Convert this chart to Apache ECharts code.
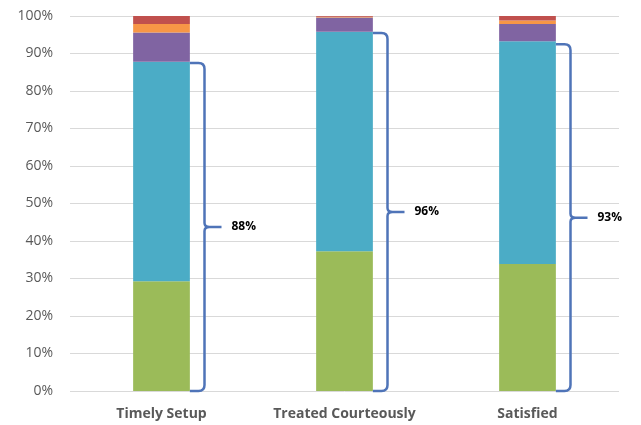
<!DOCTYPE html>
<html>
<head>
<meta charset="utf-8">
<script src="https://cdn.jsdelivr.net/npm/echarts@6/dist/echarts.min.js"></script>
<style>
  html, body { margin: 0; padding: 0; background: #fff; }
  #chart { width: 641px; height: 425px; }
</style>
</head>
<body>
<div id="chart"></div>
<script>
// Survey categories and stacked response shares (percent of respondents)
const categories = ['Timely Setup', 'Treated Courteously', 'Satisfied'];
const green  = [29.3, 37.3, 33.9];
const teal   = [58.5, 58.5, 59.4];
const purple = [7.8, 3.8, 4.6];
const orange = [2.3, 0.2, 0.9];
const red    = [2.1, 0.2, 1.2];
// Combined share of the two lowest segments, shown beside each bar
const combined = [88, 96, 93];
const yTicks = [0, 10, 20, 30, 40, 50, 60, 70, 80, 90, 100];

const colors = {
  green: '#9BBB59', teal: '#4BACC6', purple: '#8064A2',
  orange: '#F79646', red: '#C0504D', brace: '#4F74B8'
};

const barWidth = '31%';

function stack(name, data, color) {
  return {
    name, type: 'bar', stack: 'total', data,
    barWidth, itemStyle: { color },
    emphasis: { disabled: true }
  };
}

// Curly brace from the top of the combined segment down to 0%
function renderBrace(params, api) {
  const idx = api.value(0);
  const val = api.value(1);
  const top = api.coord([idx, val]);
  const bottom = api.coord([idx, 0]);
  const band = api.size([1, 0])[0];
  const barRight = top[0] + band * 0.155;
  const x = top[0] + 43;
  const yTop = top[1] + 2;
  const yBot = bottom[1];
  const mid = (yTop + yBot) / 2;
  const r = 6;
  const tip = 17;
  const path =
    'M' + barRight + ',' + yTop +
    ' L' + (x - r) + ',' + yTop +
    ' Q' + x + ',' + yTop + ' ' + x + ',' + (yTop + r) +
    ' L' + x + ',' + (mid - 4) +
    ' Q' + x + ',' + mid + ' ' + (x + 5) + ',' + mid +
    ' L' + (x + tip) + ',' + mid +
    ' M' + (x + 5) + ',' + mid +
    ' Q' + x + ',' + mid + ' ' + x + ',' + (mid + 4) +
    ' L' + x + ',' + (yBot - r) +
    ' Q' + x + ',' + yBot + ' ' + (x - r) + ',' + yBot +
    ' L' + barRight + ',' + yBot;
  return {
    type: 'group',
    children: [
      {
        type: 'path',
        shape: { pathData: path },
        style: { stroke: colors.brace, lineWidth: 2.5, fill: null }
      },
      {
        type: 'text',
        x: x + tip + 10,
        y: mid,
        style: {
          text: Math.round(val) + '%',
          fill: '#000',
          font: 'bold 12px "Open Sans", sans-serif',
          textVerticalAlign: 'middle'
        }
      }
    ]
  };
}

const chart = echarts.init(document.getElementById('chart'), null, { renderer: 'canvas' });
chart.setOption({
  animation: false,
  grid: { left: 70, right: 22, top: 16, bottom: 34 },
  xAxis: {
    type: 'category',
    data: categories,
    axisLine: { show: false },
    axisTick: { show: false },
    axisLabel: {
      interval: 0,
      hideOverlap: false,
      color: '#595959',
      fontFamily: 'Open Sans',
      fontWeight: 'bold',
      fontSize: 14,
      margin: 16
    }
  },
  yAxis: {
    type: 'value',
    min: yTicks[0],
    max: yTicks[yTicks.length - 1],
    interval: 10,
    axisLine: { show: false },
    axisTick: { show: false },
    splitLine: { lineStyle: { color: '#D9D9D9', width: 1 } },
    axisLabel: {
      color: '#595959',
      fontFamily: 'Open Sans',
      fontSize: 14,
      margin: 17,
      formatter: v => v + '%'
    }
  },
  series: [
    stack('Green', green, colors.green),
    stack('Teal', teal, colors.teal),
    stack('Purple', purple, colors.purple),
    stack('Orange', orange, colors.orange),
    stack('Red', red, colors.red),
    {
      type: 'custom',
      renderItem: renderBrace,
      data: combined.map((v, i) => [i, v]),
      z: 5,
      silent: true
    }
  ]
});
</script>
</body>
</html>
